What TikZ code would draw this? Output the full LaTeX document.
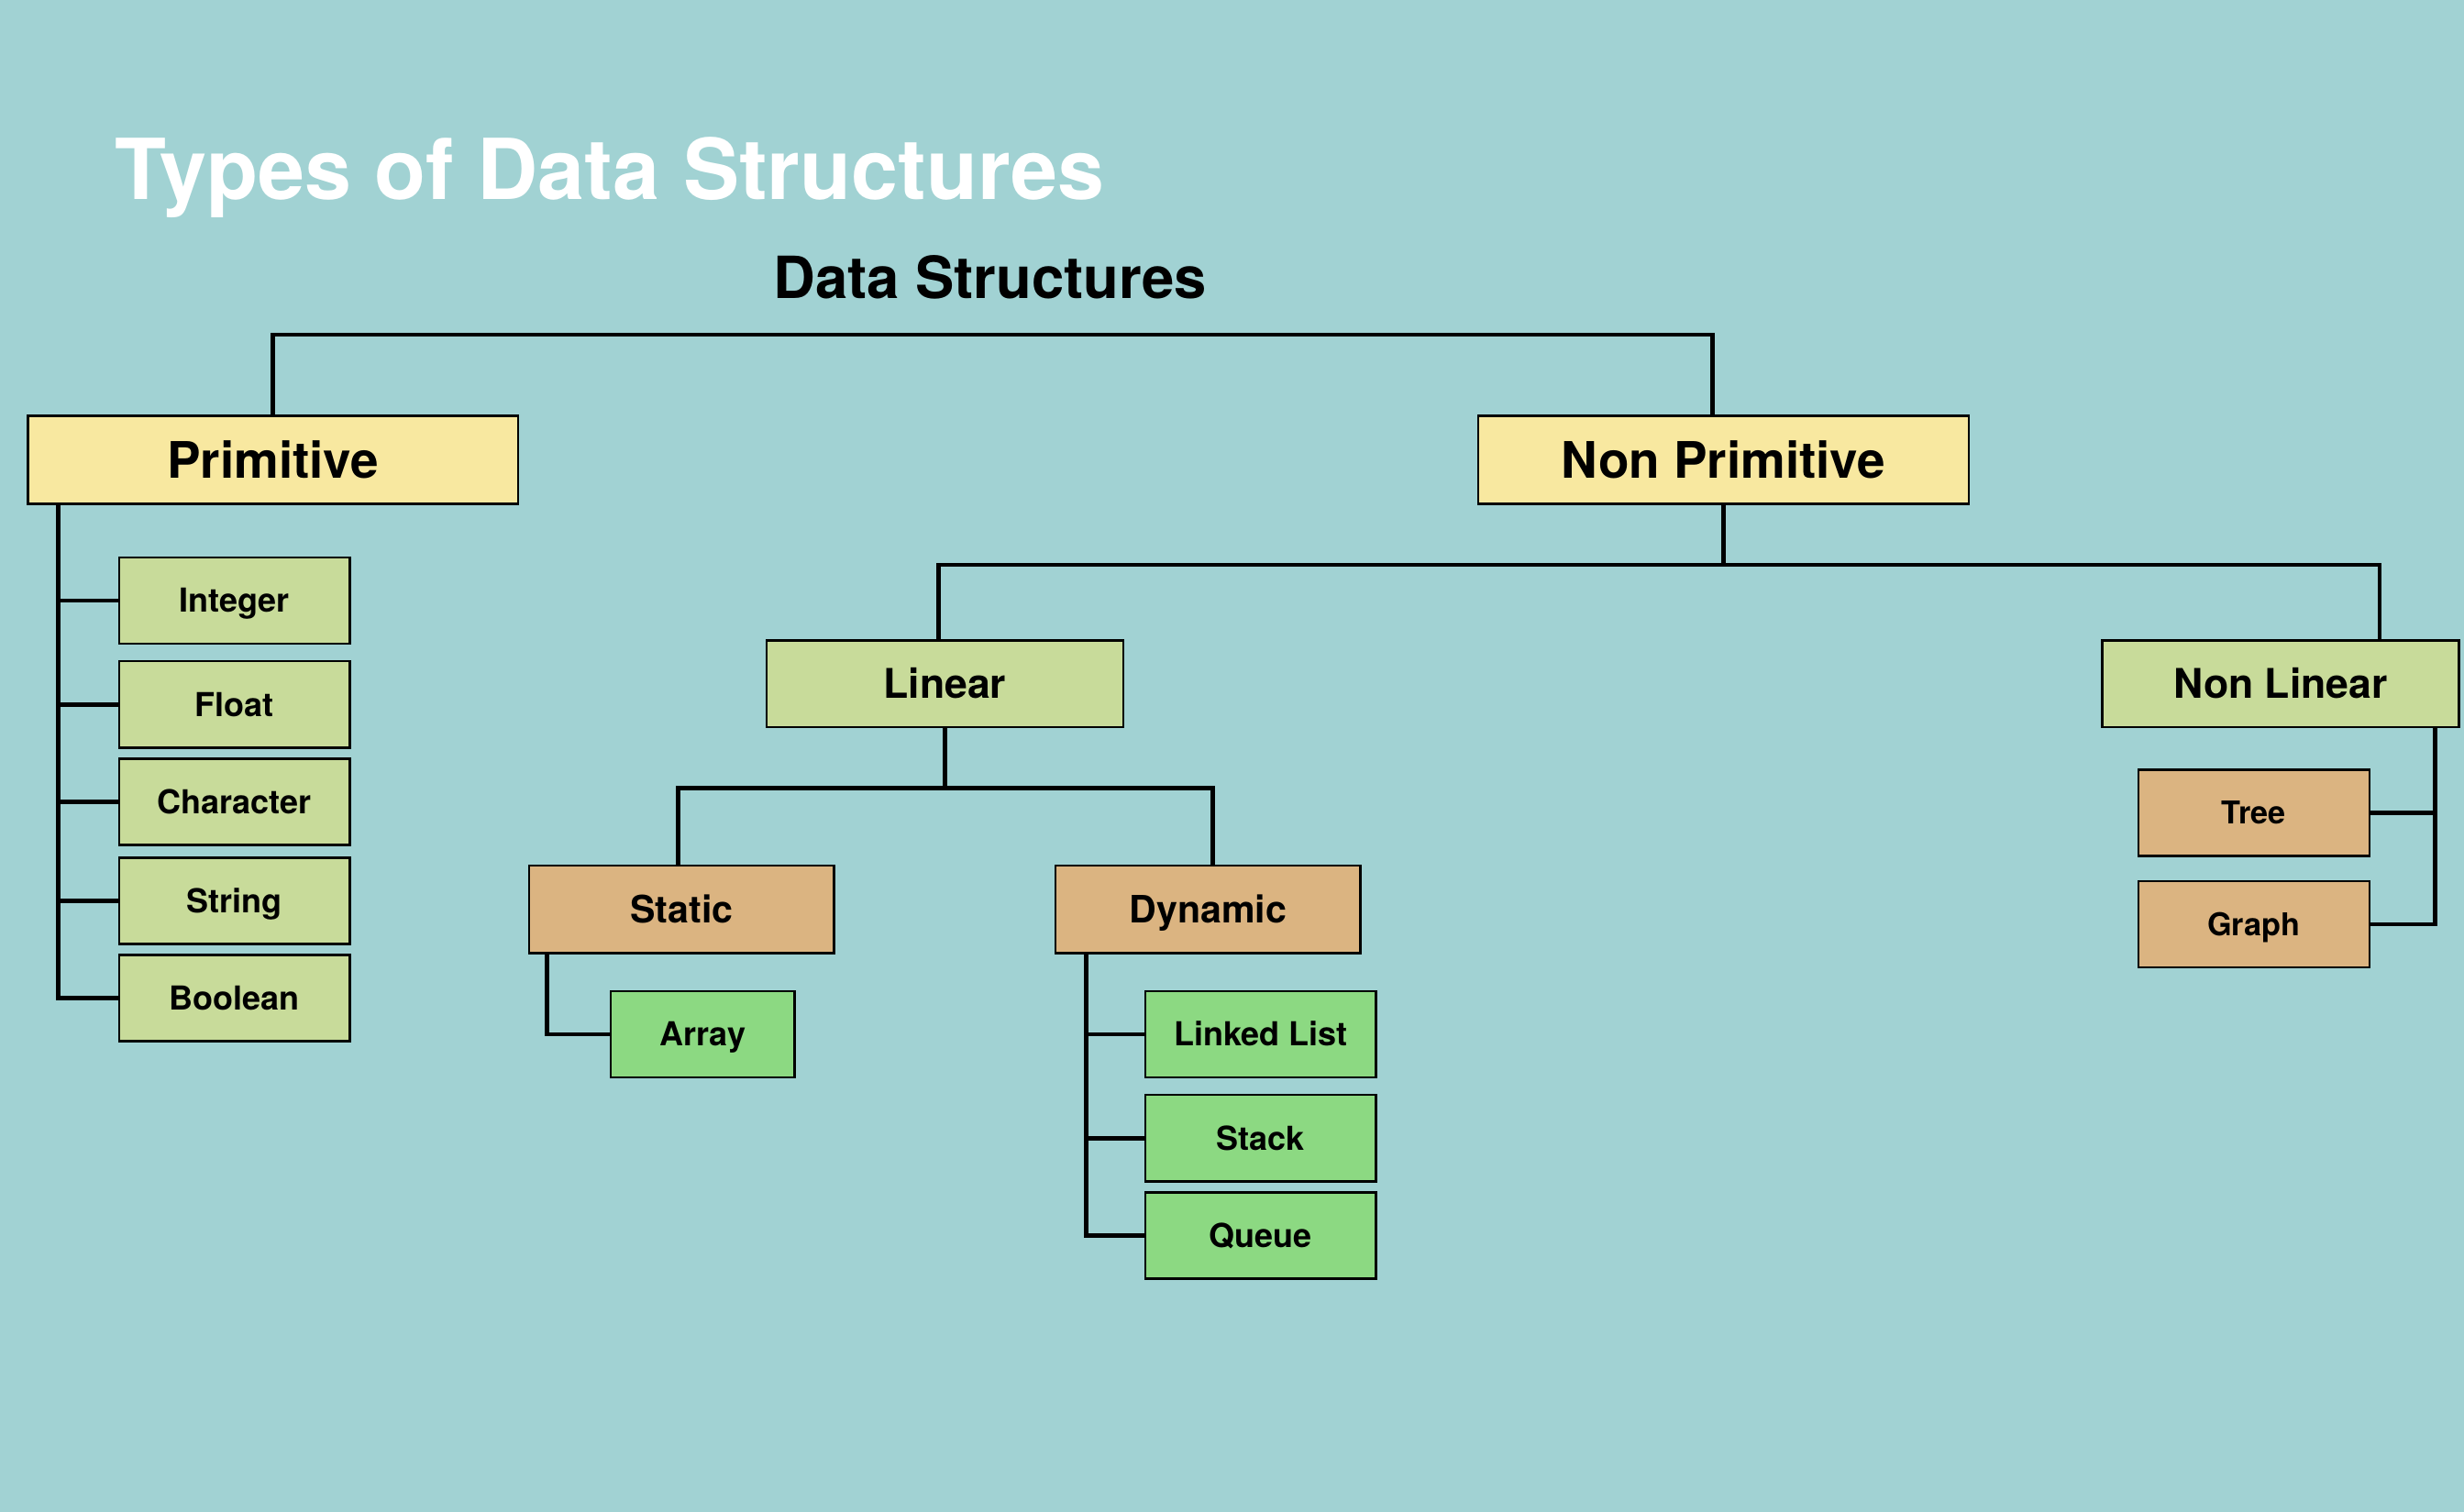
\documentclass[tikz,border=0pt]{standalone}
\usepackage{fontspec}
\setmainfont{TeX Gyre Heros}
\usetikzlibrary{calc}
\definecolor{bgc}{RGB}{161,210,211}
\definecolor{ylw}{RGB}{248,232,160}
\definecolor{lgr}{RGB}{200,219,154}
\definecolor{tan}{RGB}{219,180,129}
\definecolor{grn}{RGB}{140,217,130}
\tikzset{
  box/.style={draw=black, line width=1.5pt, inner sep=0pt, anchor=north west, text depth=0pt},
  lvlA/.style={box, fill=ylw, minimum width=312pt, minimum height=56pt, text height=23pt, font=\bfseries\fontsize{32}{38}\selectfont},
  lvlB/.style={box, fill=lgr, minimum width=227pt, minimum height=55pt, text height=18.7pt, font=\bfseries\fontsize{26}{31}\selectfont},
  lvlC/.style={box, fill=tan, minimum width=194pt, minimum height=56pt, text height=17.3pt, font=\bfseries\fontsize{24}{29}\selectfont},
  leafP/.style={box, fill=lgr, minimum width=147pt, minimum height=55pt, text height=15.1pt, font=\bfseries\fontsize{21}{25}\selectfont},
  leafG/.style={box, fill=grn, minimum width=147pt, minimum height=55pt, text height=15.1pt, font=\bfseries\fontsize{21}{25}\selectfont},
  leafT/.style={box, fill=tan, minimum width=147pt, minimum height=55pt, text height=14.4pt, font=\bfseries\fontsize{20}{24}\selectfont},
  conn/.style={draw=black, line width=2.8pt}
}
\begin{document}
\begin{tikzpicture}[x=1pt,y=-1pt]
\fill[bgc] (0,0) rectangle (1568,962);
\useasboundingbox (0,0) rectangle (1568,962);
% titles
\node[anchor=base west, text=white, inner sep=0pt, font=\bfseries\fontsize{53.5}{60}\selectfont] (title) at (73,127) {Types of Data Structures};
\node[anchor=base, inner sep=0pt, font=\bfseries\fontsize{37}{44}\selectfont] (ds) at (630,190) {Data Structures};
% level A
\node[lvlA] (prim) at (17,264) {Primitive};
\node[lvlA] (np) at (940,264) {Non Primitive};
% primitive leaves
\node[leafP] (int) at (75,354) {Integer};
\node[leafP] (flt) at (75,420) {Float};
\node[leafP] (chr) at (75,482) {Character};
\node[leafP] (str) at (75,545) {String};
\node[leafP] (bool) at (75,607) {Boolean};
% level B
\node[lvlB] (lin) at (487,407) {Linear};
\node[lvlB] (nl) at (1337,407) {Non Linear};
% level C
\node[lvlC] (stat) at (336,550) {Static};
\node[lvlC] (dyn) at (671,550) {Dynamic};
% leaves
\node[leafG, minimum width=117pt] (arr) at (388,630) {Array};
\node[leafG] (ll) at (728,630) {Linked List};
\node[leafG] (stk) at (728,696) {Stack};
\node[leafG] (que) at (728,758) {Queue};
\node[leafT] (tree) at (1360,489) {Tree};
\node[leafT] (graph) at (1360,560) {Graph};
% connectors
\draw[conn] (prim.north) -- ++(0,-51) coordinate (t1) -| ([xshift=-7pt]np.north);
\path (prim.south west) ++(20,0) coordinate (pv);
\draw[conn] (pv) |- (bool.west);
\foreach \n in {int,flt,chr,str} \draw[conn] (pv |- \n.west) -- (\n.west);
\draw[conn] (np.south) -- ++(0,38) coordinate (j1);
\draw[conn] ([xshift=-4pt]lin.north) |- (j1) -| ([xshift=63pt]nl.north);
\draw[conn] (lin.south) -- ++(0,38) coordinate (j2);
\draw[conn] ([xshift=-2pt]stat.north) |- (j2) -| ([xshift=3pt]dyn.north);
\path (stat.south west) ++(12,0) coordinate (sv);
\draw[conn] (sv) |- (arr.west);
\path (dyn.south west) ++(20,0) coordinate (dv);
\draw[conn] (dv) |- (que.west);
\foreach \n in {ll,stk} \draw[conn] (dv |- \n.west) -- (\n.west);
\path (nl.south east) ++(-16,0) coordinate (nv);
\draw[conn] (nv) |- (graph.east);
\draw[conn] (nv |- tree.east) -- (tree.east);
\end{tikzpicture}
\end{document}
